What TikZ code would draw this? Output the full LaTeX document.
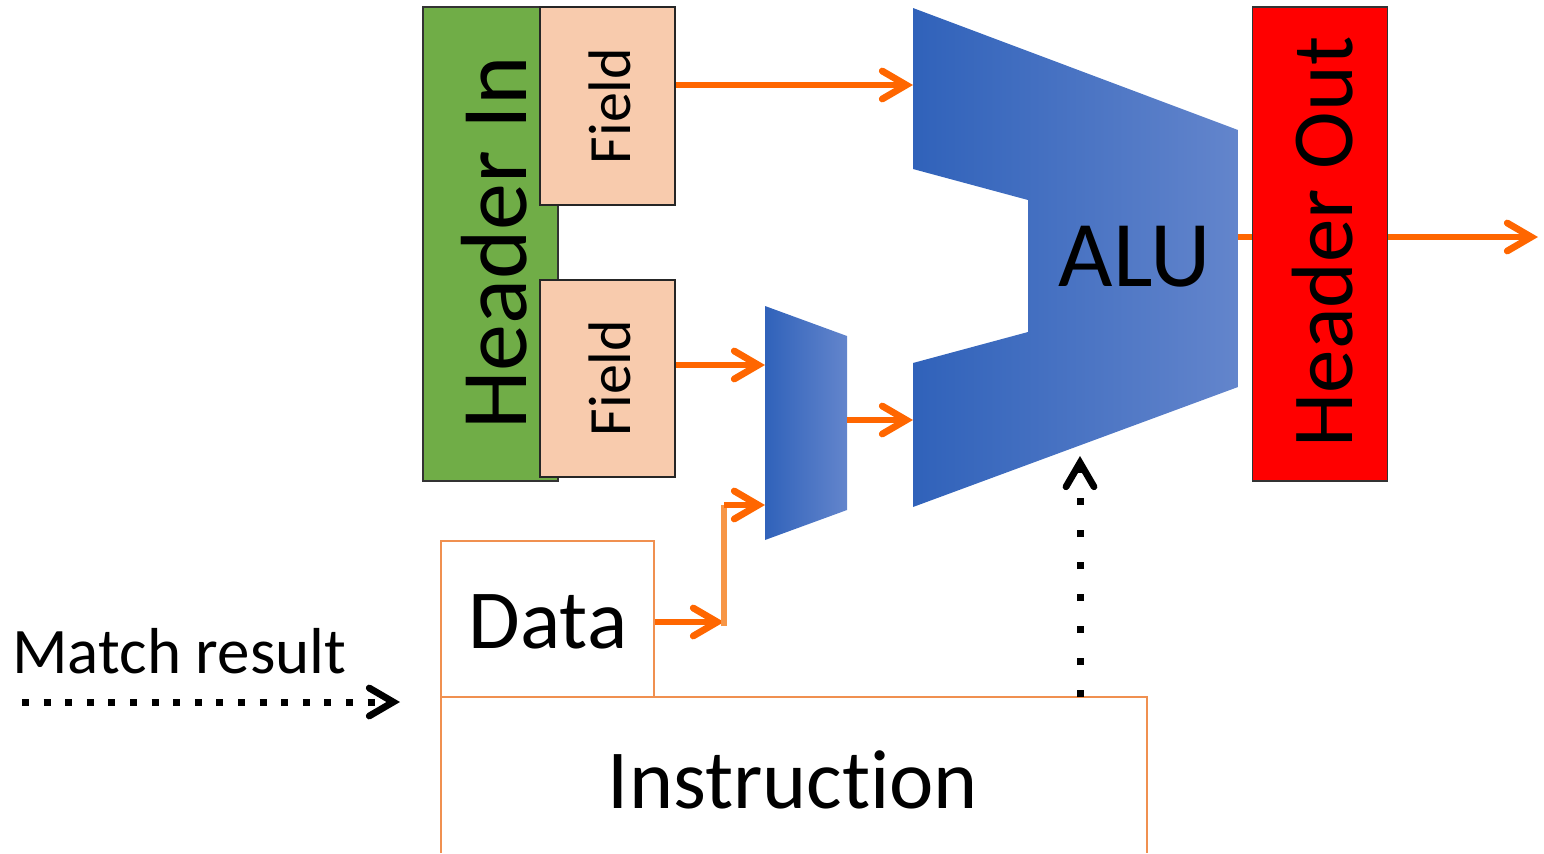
\documentclass[tikz,border=0pt]{standalone}
\usepackage{fontspec}
\setmainfont{Carlito}[Ligatures={NoCommon,NoRare,NoDiscretionary}]
\usetikzlibrary{arrows.meta}
\definecolor{hgreen}{HTML}{70AD47}
\definecolor{fieldc}{HTML}{F8CBAD}
\definecolor{arrowc}{HTML}{FF6600}
\definecolor{lightarrow}{HTML}{F79646}
\definecolor{boxline}{HTML}{F09050}
\definecolor{blueL}{HTML}{3062BA}
\definecolor{blueR}{HTML}{6385CC}
\tikzset{
  hdr/.style={draw=black!80, line width=0.6pt, inner sep=0pt, minimum width=67.5pt, minimum height=237pt},
  fieldbox/.style={draw=black!85, line width=0.6pt, fill=fieldc, inner sep=0pt, minimum width=67.5pt},
  orangebox/.style={draw=boxline, line width=0.6pt},
  oarrow/.style={draw=arrowc, line width=3.4pt, -{Straight Barb[length=12pt,width=14pt,line cap=round]}},
  dotv/.style={draw=black, line width=3.5pt, dash pattern=on 3.5pt off 12.5pt, -{Straight Barb[length=12pt,width=14pt,line cap=round,line width=3.4pt]}},
  doth/.style={draw=black, line width=3.5pt, dash pattern=on 3.5pt off 7.3pt, -{Straight Barb[length=12pt,width=14pt,line cap=round,line width=3.4pt]}},
  lbl/.style={inner sep=0pt, text=black}
}
\begin{document}
\begin{tikzpicture}[x=0.5pt,y=-0.5pt]
\useasboundingbox (0,0) rectangle (1544,853);
% Header In
\node[hdr, fill=hgreen] (hin) at (490.5,244) {};
\node[lbl, rotate=90, font=\fontsize{47}{50}\selectfont] (hintext) at (494,243) {Header In};
% Fields
\node[fieldbox, minimum height=99pt] (f1) at (607.5,106) {};
\node[lbl, rotate=90, font=\fontsize{30}{32}\selectfont] (f1t) at (610,106) {Field};
\node[fieldbox, minimum height=98.5pt] (f2) at (607.5,378.5) {};
\node[lbl, rotate=90, font=\fontsize{30}{32}\selectfont] (f2t) at (610,378) {Field};
% Mux
\shade[left color=blueL, right color=blueR] (765,306) -- (847,336) -- (847,510) -- (765,540) -- cycle;
\coordinate (muxin1) at (765,365);
\coordinate (muxin2) at (765,505);
\coordinate (muxout) at (847,420);
% ALU
\shade[left color=blueL, right color=blueR] (913,8) -- (1238,130) -- (1238,387) -- (913,507) -- (913,363) -- (1028,332) -- (1028,200) -- (913,169) -- cycle;
\node[lbl, font=\fontsize{47}{50}\selectfont] (alu) at (1135,257) {ALU};
\coordinate (aluin1) at (913,85);
\coordinate (aluin2) at (913,420);
\coordinate (aluout) at (1238,237);
\coordinate (aluctl) at (1080,456);
% Header Out
\node[hdr, fill=red] (hout) at (1320,244) {};
\node[lbl, rotate=90, font=\fontsize{43.5}{46}\selectfont] (houttext) at (1323,242) {Header Out};
\coordinate (outend) at (1538,237);
% Data and Instruction
\node[orangebox, minimum width=106.5pt, minimum height=78pt, inner sep=0pt] (data) at (547.5,619) {};
\node[lbl, font=\fontsize{42}{45}\selectfont] (datat) at (548,622) {Data};
\draw[orangebox] (441,853) |- (1147,697) -- (1147,853);
\node[lbl, font=\fontsize{42}{45}\selectfont] (instr) at (793,780) {Instruction};
\coordinate (instrtop) at (1080,697);
% Match result
\node[lbl, font=\fontsize{32.5}{36}\selectfont, anchor=west] (match) at (12,651) {Match result};
\coordinate (mstart) at (22,702);
\coordinate (mend) at (400,702);
% connectors
\draw[oarrow] (f1.east |- aluin1) -- (aluin1);
\draw[oarrow] (f2.east |- muxin1) -- (muxin1);
\draw[oarrow] (muxout) -- (aluin2);
\draw[draw=arrowc, line width=3.4pt] (aluout) -- (hout.west |- aluout);
\draw[oarrow] (hout.east |- outend) -- (outend);
\coordinate (j1) at (724,622);
\coordinate (j2) at (724,505);
\draw[oarrow] (data.east |- j1) -- (j1);
\draw[draw=lightarrow, line width=3pt] ([yshift=-2pt]j1) -- (j2);
\draw[oarrow] (j2) -- (muxin2);
\draw[dotv] (instrtop) -- (aluctl);
\draw[doth] (mstart) -- (mend);
\end{tikzpicture}
\end{document}
